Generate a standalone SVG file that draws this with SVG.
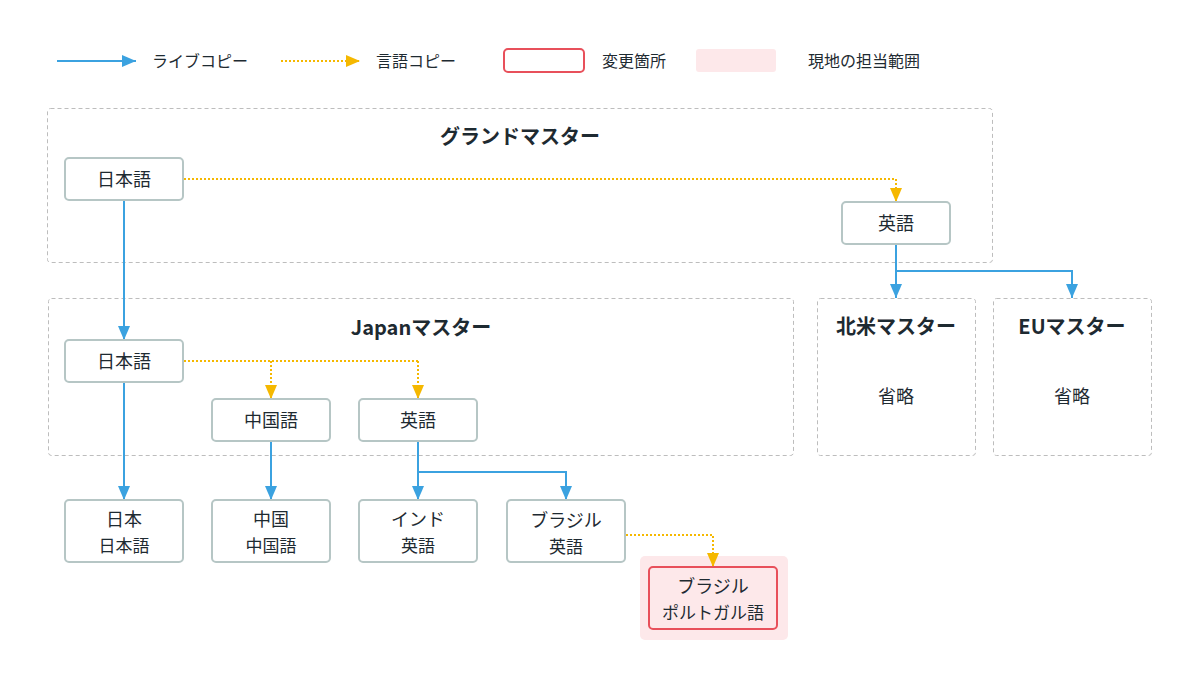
<svg xmlns="http://www.w3.org/2000/svg" width="1200" height="680" viewBox="0 0 1200 680">
<defs>
<style>
text{font-family:"Noto Sans CJK JP","Noto Sans",sans-serif;fill:#1e2a31;text-anchor:middle}
.t{font-size:18px}
.s{font-size:17px}
.h{font-size:20px;font-weight:bold}
.grp{fill:#fff;stroke:#bdbdbd;stroke-width:1;stroke-dasharray:4 3}
.node{fill:#fff;stroke:#b6c6c5;stroke-width:2}
.live{fill:none;stroke:#3ba2e0;stroke-width:2}
.lang{fill:none;stroke:#f5b800;stroke-width:2;stroke-dasharray:2 2}
.lg{text-anchor:start;font-size:16px}
</style>
<marker id="ab" markerUnits="userSpaceOnUse" markerWidth="14" markerHeight="12" viewBox="0 0 14 12" refX="14" refY="6" orient="auto"><path d="M0,0 L14,6 L0,12 Z" fill="#3ba2e0"/></marker>
<marker id="ay" markerUnits="userSpaceOnUse" markerWidth="14" markerHeight="12" viewBox="0 0 14 12" refX="14" refY="6" orient="auto"><path d="M0,0 L14,6 L0,12 Z" fill="#f5b800"/></marker>
</defs>
<rect width="1200" height="680" fill="#fff"/>

<g id="legend">
<line class="live" x1="57" y1="61" x2="136" y2="61" marker-end="url(#ab)"/>
<text class="lg" x="152" y="67">ライブコピー</text>
<line class="lang" x1="281" y1="61" x2="360" y2="61" marker-end="url(#ay)"/>
<text class="lg" x="376" y="67">言語コピー</text>
<rect x="504" y="49" width="80" height="23" rx="4" fill="#fff" stroke="#e8505b" stroke-width="2"/>
<text class="lg" x="602" y="67">変更箇所</text>
<rect x="696" y="49" width="80" height="23" rx="3" fill="#fde8ea"/>
<text class="lg" x="808" y="67">現地の担当範囲</text>
</g>

<g id="grand-master">
<rect class="grp" x="47.5" y="108.5" width="945" height="154" rx="3"/>
<text class="h" x="520" y="144">グランドマスター</text>
</g>
<g id="japan-master">
<rect class="grp" x="48.5" y="298.5" width="745" height="157" rx="3"/>
<text class="h" x="421" y="335">Japanマスター</text>
</g>
<g id="na-master">
<rect class="grp" x="817.5" y="298.5" width="158" height="157" rx="3"/>
<text class="h" x="896" y="334">北米マスター</text>
<text class="t" x="896" y="403">省略</text>
</g>
<g id="eu-master">
<rect class="grp" x="993.5" y="298.5" width="158" height="157" rx="3"/>
<text class="h" x="1072" y="334">EUマスター</text>
<text class="t" x="1072" y="403">省略</text>
</g>

<g id="local-brazil-bg">
<rect x="640" y="556" width="148" height="84" rx="5" fill="#fde8ea"/>
</g>

<g id="connectors">
<line class="lang" x1="184" y1="179" x2="896" y2="179"/>
<line class="lang" x1="896" y1="179" x2="896" y2="202" marker-end="url(#ay)"/>
<line class="live" x1="124" y1="200" x2="124" y2="340" marker-end="url(#ab)"/>
<polyline class="live" points="896,244 896,271 1072,271 1072,298" marker-end="url(#ab)"/>
<line class="live" x1="896" y1="244" x2="896" y2="298" marker-end="url(#ab)"/>
<line class="lang" x1="184" y1="361" x2="418" y2="361"/>
<line class="lang" x1="418" y1="361" x2="418" y2="399" marker-end="url(#ay)"/>
<line class="lang" x1="271" y1="361" x2="271" y2="399" marker-end="url(#ay)"/>
<line class="live" x1="124" y1="382" x2="124" y2="500" marker-end="url(#ab)"/>
<line class="live" x1="271" y1="441" x2="271" y2="500" marker-end="url(#ab)"/>
<line class="live" x1="418" y1="441" x2="418" y2="500" marker-end="url(#ab)"/>
<polyline class="live" points="418,472 566,472 566,500" marker-end="url(#ab)"/>
<polyline class="lang" points="626,535 713,535 713,567" marker-end="url(#ay)"/>
</g>

<g id="gm-ja"><rect class="node" x="65" y="158" width="118" height="42" rx="4"/><text class="t" x="124" y="186">日本語</text></g>
<g id="gm-en"><rect class="node" x="842" y="202" width="108" height="42" rx="4"/><text class="t" x="896" y="230">英語</text></g>
<g id="jp-ja"><rect class="node" x="65" y="340" width="118" height="42" rx="4"/><text class="t" x="124" y="368">日本語</text></g>
<g id="jp-zh"><rect class="node" x="212" y="399" width="118" height="42" rx="4"/><text class="t" x="271" y="427">中国語</text></g>
<g id="jp-en"><rect class="node" x="359" y="399" width="118" height="42" rx="4"/><text class="t" x="418" y="427">英語</text></g>
<g id="japan"><rect class="node" x="65" y="500" width="118" height="62" rx="4"/><text class="t" x="124" y="526">日本</text><text class="s" x="124" y="552">日本語</text></g>
<g id="china"><rect class="node" x="212" y="500" width="118" height="62" rx="4"/><text class="t" x="271" y="526">中国</text><text class="s" x="271" y="552">中国語</text></g>
<g id="india"><rect class="node" x="359" y="500" width="118" height="62" rx="4"/><text class="t" x="418" y="526">インド</text><text class="s" x="418" y="552">英語</text></g>
<g id="brazil-en"><rect class="node" x="507" y="500" width="118" height="62" rx="4"/><text class="t" x="566" y="527">ブラジル</text><text class="s" x="566" y="553">英語</text></g>
<g id="brazil-pt"><rect x="649" y="567" width="128" height="62" rx="4" fill="#fde8ea" stroke="#e8505b" stroke-width="2"/><text class="t" x="713" y="593">ブラジル</text><text class="s" x="713" y="619">ポルトガル語</text></g>
</svg>
